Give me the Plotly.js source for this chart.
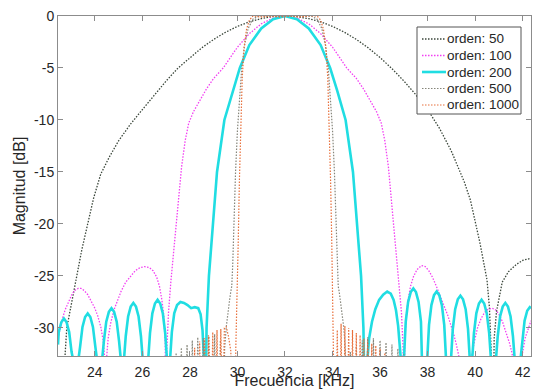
<!DOCTYPE html>
<html>
<head>
<meta charset="utf-8">
<script src="https://cdn.plot.ly/plotly-3.0.1.min.js"></script>
<style>html,body{margin:0;padding:0;background:#fff;}#chart{width:534px;height:389px;}</style>
</head>
<body>
<div id="chart"></div>
<script>
// Series names (legend)
const seriesNames = ["orden: 50", "orden: 100", "orden: 200", "orden: 500", "orden: 1000"];

// Tick values
const xTicks = [24, 26, 28, 30, 32, 34, 36, 38, 40, 42];
const yTicks = [0, -5, -10, -15, -20, -25, -30];

// [frequency kHz, magnitude dB]
const orden50 = [[22.45,-36],[22.62,-40],[22.72,-48],[22.75,-32.5],[22.82,-30],[23.03,-27.5],[23.24,-25],[23.45,-22.5],[23.7,-20],[23.95,-17.5],[24.25,-15.2],[24.6,-13.6],[25.0,-12.0],[25.5,-10.4],[26.0,-9.0],[26.5,-7.6],[27.0,-6.25],[27.5,-5.0],[28.0,-4.0],[28.5,-3.06],[29.0,-2.25],[29.5,-1.56],[30.0,-1.0],[30.5,-0.56],[31.0,-0.25],[31.5,-0.06],[32.0,0],[32.5,-0.06],[33.0,-0.25],[33.5,-0.56],[34.0,-1.0],[34.5,-1.56],[35.0,-2.25],[35.5,-3.06],[36.0,-4.0],[36.5,-5.06],[37.0,-6.25],[37.5,-7.56],[38.0,-9.0],[38.5,-10.8],[39.0,-13.0],[39.3,-14.6],[39.55,-16.0],[39.8,-17.7],[40.0,-19.6],[40.2,-21.8],[40.4,-24.2],[40.5,-25.4],[40.6,-28],[40.67,-32],[40.72,-48],[40.8,-31],[40.9,-28.4],[41.14,-25.6],[41.4,-24.6],[41.73,-23.9],[42.0,-23.5],[42.35,-23.3]];

const orden100 = [[22.45,-31],[22.55,-29.9],[22.65,-29],[22.76,-28.2],[22.87,-27.6],[23.05,-26.7],[23.18,-26.35],[23.3,-26.2],[23.42,-26.2],[23.55,-26.4],[23.7,-26.8],[23.85,-27.4],[24.0,-28.1],[24.13,-28.9],[24.25,-29.9],[24.35,-31.2],[24.41,-32.8],[24.45,-45],[24.49,-33],[24.56,-31],[24.66,-29.6],[24.8,-28.3],[24.95,-27.3],[25.1,-26.5],[25.3,-25.6],[25.5,-25.0],[25.7,-24.5],[25.9,-24.2],[26.1,-24.1],[26.3,-24.2],[26.45,-24.5],[26.6,-25.1],[26.72,-26.0],[26.82,-27.3],[26.9,-28.8],[26.96,-31.5],[27.0,-45],[27.03,-32],[27.1,-28.5],[27.2,-25.5],[27.3,-23],[27.44,-19.9],[27.55,-17],[27.65,-14.5],[27.8,-12],[27.95,-10.3],[28.15,-9.2],[28.4,-8.2],[28.7,-7.0],[29.0,-6.0],[29.4,-5.0],[30.0,-3.0],[30.5,-1.7],[31.0,-0.75],[31.5,-0.2],[32.0,0],[32.5,-0.2],[33.0,-0.75],[33.5,-1.7],[34.0,-3.0],[34.6,-5.0],[35.0,-6.0],[35.3,-7.0],[35.6,-8.2],[35.85,-9.2],[36.05,-10.3],[36.2,-12],[36.35,-14.5],[36.45,-17],[36.56,-19.9],[36.7,-23],[36.8,-25.5],[36.9,-28.5],[36.97,-32],[37.0,-45],[37.04,-31.5],[37.1,-28.8],[37.18,-27.3],[37.28,-26.0],[37.4,-25.1],[37.55,-24.4],[37.74,-24.0],[37.9,-24.1],[38.05,-24.5],[38.2,-25.1],[38.37,-26.0],[38.55,-27.0],[38.7,-27.9],[38.85,-28.8],[38.96,-29.6],[39.1,-30.6],[39.22,-31.7],[39.34,-33],[39.6,-45],[39.84,-33],[39.95,-31.5],[40.1,-30],[40.25,-29.1],[40.4,-28.5],[40.55,-28.2],[40.72,-28.1],[40.88,-28.3],[41.0,-28.7],[41.15,-29.4],[41.3,-30.4],[41.45,-31.5],[41.55,-32.4],[41.65,-34],[41.8,-45],[41.95,-33],[42.1,-31],[42.22,-30.1],[42.35,-29.3]];

const orden200 = [[22.45,-31.6],[22.48,-30.4],[22.59,-29.45],[22.7,-29.1],[22.81,-29.45],[22.92,-30.4],[23.02,-32.3],[23.1,-33.2],[23.2,-45],
[23.3,-33.2],[23.38,-31.8],[23.48,-29.9],[23.59,-28.95],[23.7,-28.6],[23.81,-28.95],[23.92,-29.9],[24.02,-31.8],[24.1,-33.2],[24.2,-45],
[24.3,-33.2],[24.38,-31.3],[24.48,-29.4],[24.59,-28.45],[24.7,-28.1],[24.81,-28.45],[24.92,-29.4],[25.02,-31.3],[25.1,-33.2],[25.16,-45],
[25.22,-33.2],[25.3,-30.8],[25.4,-28.9],[25.51,-27.95],[25.62,-27.6],[25.73,-27.95],[25.84,-28.9],[25.94,-30.8],[26.02,-33.2],[26.13,-45],
[26.24,-33.2],[26.32,-30.5],[26.42,-28.6],[26.53,-27.65],[26.64,-27.3],[26.75,-27.65],[26.86,-28.6],[26.96,-30.5],[27.04,-33.2],[27.1,-45],
[27.16,-33.2],[27.24,-30.4],[27.34,-28.6],[27.46,-27.8],[27.6,-27.5],[27.75,-27.6],[27.9,-27.8],[28.05,-28.1],[28.2,-28.0],[28.35,-28.1],[28.45,-28.7],[28.53,-30.2],[28.58,-32.5],[28.62,-45],
[28.66,-33],[28.7,-30],[28.8,-25],[28.96,-20],[29.14,-15],[29.45,-10],[29.8,-7.2],[30.1,-5],[30.5,-2.8],[31.0,-1.2],[31.5,-0.3],[32.0,0],[32.5,-0.3],[33.0,-1.2],[33.5,-2.8],[33.9,-5],[34.2,-7.2],[34.55,-10],[34.86,-15],[35.04,-20],[35.2,-25],[35.3,-30],[35.34,-33],[35.4,-45],
[35.46,-33.2],[35.54,-31],[35.66,-29.4],[35.8,-28.2],[35.96,-27.3],[36.13,-26.8],[36.3,-26.5],[36.45,-26.7],[36.57,-27.3],[36.67,-28.3],[36.76,-29.8],[36.83,-31.5],[36.88,-33.2],[36.92,-45],
[37.0,-33.2],[37.08,-29.4],[37.18,-27.5],[37.29,-26.55],[37.4,-26.2],[37.51,-26.55],[37.62,-27.5],[37.72,-29.4],[37.8,-33.2],[37.9,-45],
[37.98,-33.2],[38.06,-29.7],[38.16,-27.8],[38.27,-26.85],[38.38,-26.5],[38.49,-26.85],[38.6,-27.8],[38.7,-29.7],[38.78,-33.2],[38.88,-45],
[38.98,-33.2],[39.06,-30.1],[39.16,-28.2],[39.27,-27.25],[39.38,-26.9],[39.49,-27.25],[39.6,-28.2],[39.7,-30.1],[39.78,-33.2],[39.83,-45],
[39.87,-33.2],[39.95,-30.5],[40.05,-28.6],[40.16,-27.65],[40.27,-27.3],[40.38,-27.65],[40.49,-28.6],[40.59,-30.5],[40.67,-33.2],[40.77,-45],
[40.87,-33.2],[40.95,-30.8],[41.05,-28.9],[41.16,-27.95],[41.27,-27.6],[41.38,-27.95],[41.49,-28.9],[41.59,-30.8],[41.67,-33.2],[41.79,-45],
[41.9,-33.2],[41.98,-31.2],[42.08,-29.3],[42.19,-28.35],[42.3,-28.0],[42.35,-28.1]];

const orden500 = [[27.3,-45],[27.42,-32.4],[27.52,-45],[27.64,-31.9],[27.76,-45],[27.88,-31.6],[28.0,-45],[28.1,-31.2],[28.22,-45],[28.33,-30.9],[28.45,-45],[28.56,-31.0],[28.68,-45],[28.8,-30.8],[28.92,-45],[29.04,-30.6],[29.16,-45],[29.28,-31.2],[29.38,-45],[29.46,-32],[29.53,-29.9],[29.6,-28.3],[29.67,-27.3],[29.72,-26.5],[29.76,-26.0],[29.8,-24],[29.85,-20],[29.92,-15],[30.0,-11],[30.08,-8],[30.18,-5],[30.3,-2.8],[30.45,-1.2],[30.65,-0.3],[30.9,0],[31.3,-0.05],[31.7,0],[32.0,-0.02],[32.3,0],[32.7,-0.05],[33.1,0],[33.35,-0.3],[33.55,-1.2],[33.7,-2.8],[33.82,-5],[33.92,-8],[34.0,-11],[34.08,-15],[34.15,-20],[34.2,-24],[34.24,-26],[34.28,-26.5],[34.33,-27.3],[34.4,-28.3],[34.47,-29.9],[34.54,-32],[34.64,-45],[34.75,-32.3],[34.87,-45],[35.0,-31.8],[35.12,-45],[35.25,-31.2],[35.37,-45],[35.48,-30.9],[35.6,-45],[35.72,-31.0],[35.85,-45],[36.0,-31.2],[36.12,-45],[36.25,-31.4],[36.38,-45],[36.5,-31.6],[36.62,-45],[36.75,-32.0],[36.87,-45],[37.0,-32.5],[37.1,-45]];

const orden1000 = [[28.1,-45],[28.2,-31.9],[28.3,-45],[28.41,-31.3],[28.52,-45],[28.62,-31.0],[28.7,-45],[28.78,-30.7],[28.87,-45],[28.96,-30.4],[29.05,-45],[29.14,-30.2],[29.22,-44],[29.3,-30.1],[29.37,-40],[29.45,-30.0],[29.53,-29.9],[29.62,-30.8],[29.72,-32.2],[29.8,-40],[29.86,-45],[29.93,-32],[29.98,-28],[30.03,-22],[30.08,-16],[30.14,-10],[30.2,-6],[30.28,-3],[30.38,-1.3],[30.5,-0.4],[30.65,0],[31.0,-0.1],[31.4,0],[31.8,-0.1],[32.2,0],[32.6,-0.1],[33.0,0],[33.35,0],[33.5,-0.4],[33.62,-1.3],[33.72,-3],[33.8,-6],[33.86,-10],[33.92,-16],[33.97,-22],[34.02,-28],[34.07,-32],[34.12,-45],[34.2,-30.2],[34.28,-45],[34.36,-29.6],[34.44,-45],[34.52,-29.8],[34.6,-45],[34.68,-30.0],[34.76,-45],[34.84,-30.2],[34.92,-45],[35.0,-30.5],[35.08,-45],[35.16,-30.7],[35.24,-45],[35.32,-31.0],[35.4,-45],[35.48,-31.2],[35.56,-45],[35.65,-31.5],[35.73,-45],[35.82,-31.7],[35.9,-45],[36.0,-32.0],[36.08,-45],[36.2,-32.4],[36.3,-45]];

const allSeries = [orden50, orden100, orden200, orden500, orden1000];
const styles = [
  {color: '#3b473b', width: 1.3, dash: '1.5px,1.5px'},
  {color: '#f23ff2', width: 1.3, dash: '1.5px,1.5px'},
  {color: '#20dde2', width: 2.6, dash: 'solid'},
  {color: '#85857a', width: 1.2, dash: '1.5px,1.5px'},
  {color: '#e8703c', width: 1.2, dash: '1.5px,1.5px'}
];

const traces = allSeries.map((s, i) => ({
  type: 'scatter',
  mode: 'lines',
  name: seriesNames[i],
  x: s.map(p => p[0]),
  y: s.map(p => p[1]),
  line: {color: styles[i].color, width: styles[i].width, dash: styles[i].dash, shape: 'linear'},
  showlegend: false
}));

const font = {family: 'Liberation Sans, Arial, Helvetica, sans-serif', color: '#262626'};

// Plot area in pixels (for placing the boxed legend)
const M = {l: 58, r: 3, t: 16, b: 33};
const W = 534, H = 389;
const pw = W - M.l - M.r, ph = H - M.t - M.b;
const px2p = px => (px - M.l) / pw;
const py2p = py => (H - M.b - py) / ph;

const legBox = {x0: 417, x1: 521, y0: 27, y1: 114};
const legRows = [39, 55.5, 72, 88.5, 105];
const shapes = [{
  type: 'rect', xref: 'paper', yref: 'paper',
  x0: px2p(legBox.x0), x1: px2p(legBox.x1), y0: py2p(legBox.y1), y1: py2p(legBox.y0),
  line: {color: '#555555', width: 1}, fillcolor: '#ffffff', layer: 'above'
}];
const annotations = [];
legRows.forEach((ry, i) => {
  shapes.push({
    type: 'line', xref: 'paper', yref: 'paper',
    x0: px2p(422), x1: px2p(446), y0: py2p(ry), y1: py2p(ry),
    line: {color: styles[i].color, width: styles[i].width, dash: styles[i].dash}, layer: 'above'
  });
  annotations.push({
    xref: 'paper', yref: 'paper', x: px2p(445), y: py2p(ry),
    xanchor: 'left', yanchor: 'middle', showarrow: false,
    text: seriesNames[i], font: Object.assign({size: 13.5}, font)
  });
});

const layout = {
  width: W, height: H,
  margin: {l: M.l, r: M.r, t: M.t, b: M.b, pad: 0},
  paper_bgcolor: '#ffffff', plot_bgcolor: '#ffffff',
  font: Object.assign({size: 13}, font),
  showlegend: false,
  shapes: shapes,
  annotations: annotations,
  xaxis: {
    range: [22.45, 42.35],
    tickmode: 'array', tickvals: xTicks, ticktext: xTicks.map(String),
    ticks: 'inside', ticklen: 5, tickcolor: '#8c8c8c', tickwidth: 1,
    showline: true, linecolor: '#8c8c8c', linewidth: 1, mirror: 'ticks',
    showgrid: false, zeroline: false,
    tickfont: Object.assign({size: 14}, font),
    ticklabelstandoff: 3,
    title: {text: 'Frecuencia [kHz]', font: Object.assign({size: 16}, font), standoff: 4},
    automargin: false
  },
  yaxis: {
    range: [-32.7, 0],
    tickmode: 'array', tickvals: yTicks, ticktext: yTicks.map(String),
    ticks: 'inside', ticklen: 5, tickcolor: '#8c8c8c', tickwidth: 1,
    showline: true, linecolor: '#8c8c8c', linewidth: 1, mirror: 'ticks',
    showgrid: false, zeroline: false,
    tickfont: Object.assign({size: 14}, font),
    title: {text: 'Magnitud [dB]', font: Object.assign({size: 16}, font), standoff: 4},
    automargin: false
  }
};

Plotly.newPlot('chart', traces, layout, {displayModeBar: false, staticPlot: true});
</script>
</body>
</html>
